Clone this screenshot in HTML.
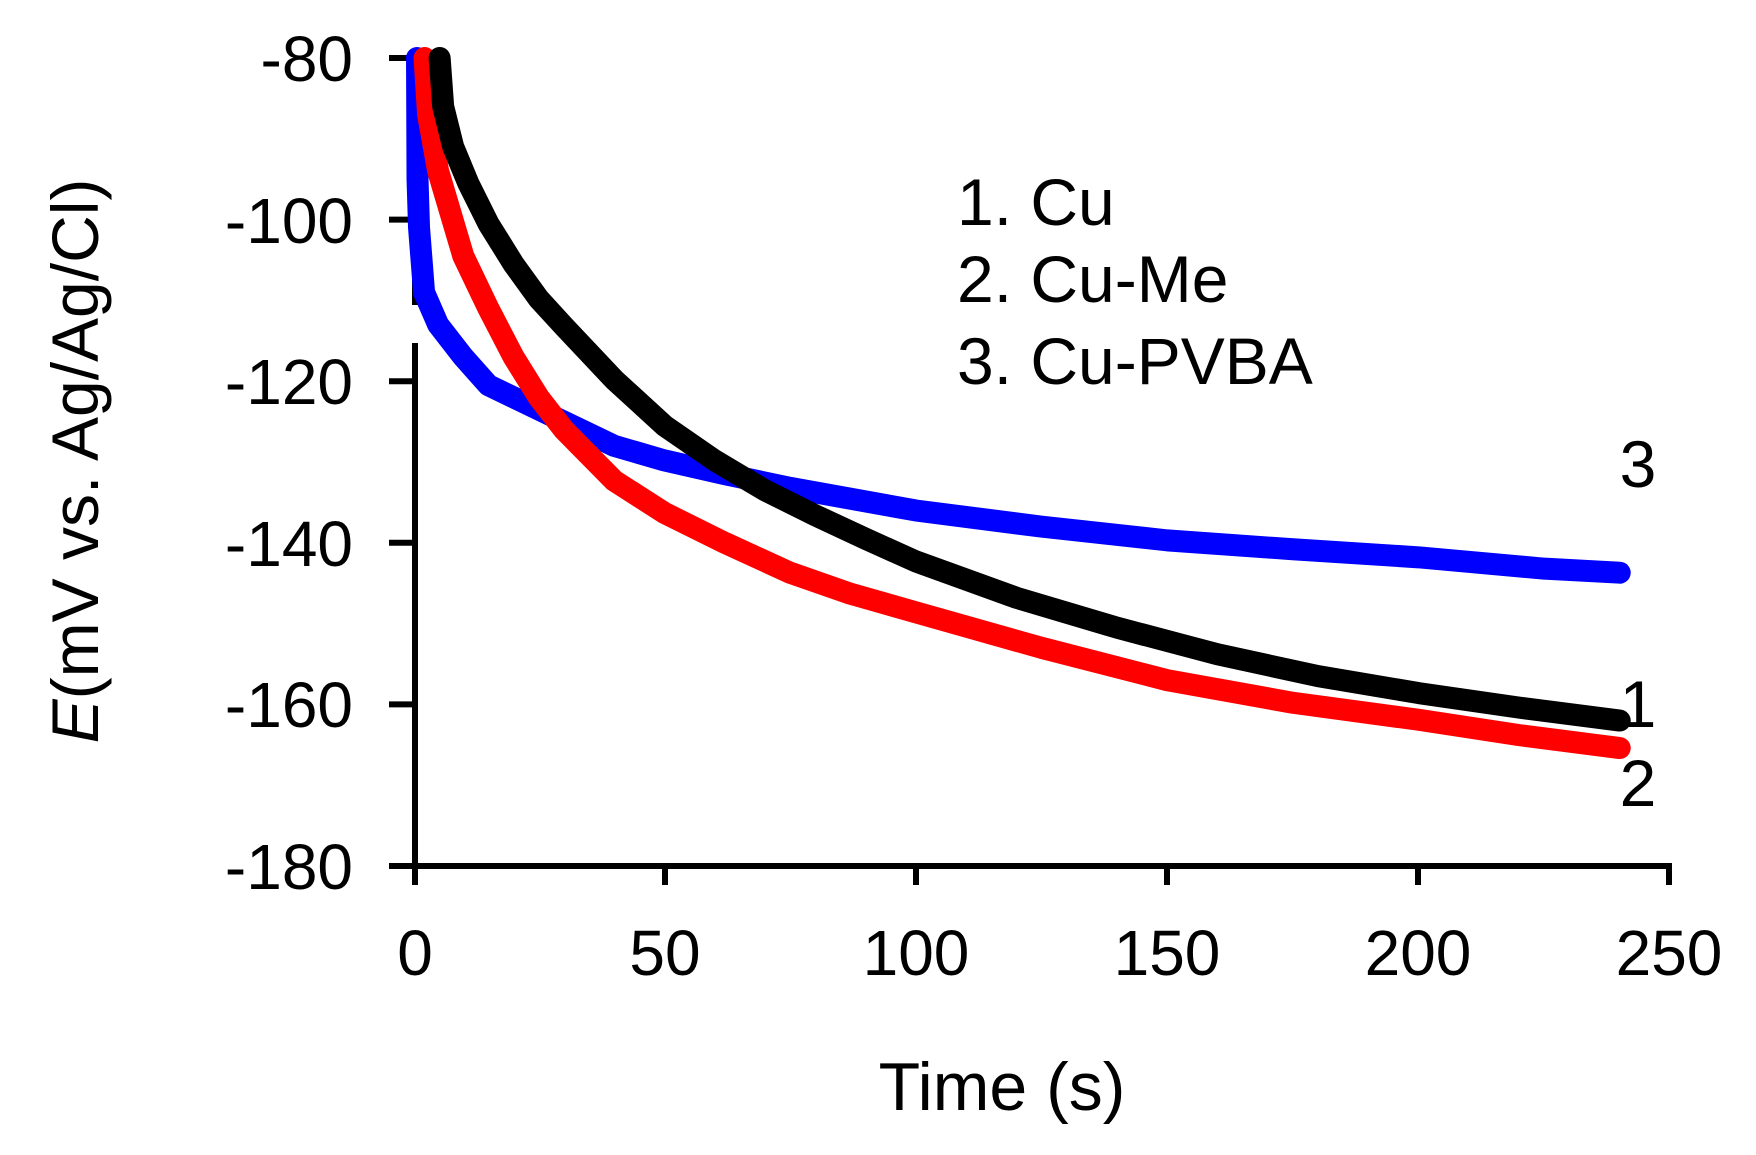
<!DOCTYPE html>
<html><head><meta charset="utf-8"><style>
html,body{margin:0;padding:0;background:#fff;}
svg{display:block;font-family:"Liberation Sans",Arial,sans-serif;}
</style></head><body>
<svg width="1756" height="1155" viewBox="0 0 1756 1155" xmlns="http://www.w3.org/2000/svg">
<rect width="1756" height="1155" fill="#fff"/>
<g stroke="#000" stroke-width="6" fill="none">
<line x1="415" y1="56" x2="415" y2="869"/>
<line x1="389" y1="866" x2="1672" y2="866"/>
<line x1="389" y1="58" x2="415" y2="58"/>
<line x1="389" y1="219.6" x2="415" y2="219.6"/>
<line x1="389" y1="381.2" x2="415" y2="381.2"/>
<line x1="389" y1="542.8" x2="415" y2="542.8"/>
<line x1="389" y1="704.4" x2="415" y2="704.4"/>
<line x1="415" y1="866" x2="415" y2="885"/>
<line x1="665" y1="866" x2="665" y2="885"/>
<line x1="916" y1="866" x2="916" y2="885"/>
<line x1="1167" y1="866" x2="1167" y2="885"/>
<line x1="1418" y1="866" x2="1418" y2="885"/>
<line x1="1669" y1="866" x2="1669" y2="885"/>
</g>
<rect x="410" y="305" width="10" height="38" fill="#fff"/>
<g transform="matrix(5.028 0 0 -8.08 413 -588.4)" fill="none" stroke-width="22" stroke-linejoin="round" stroke-linecap="round">
<polyline vector-effect="non-scaling-stroke" stroke="#0000ff" points="0.8,-80 0.9,-95 1.2,-101 2.2,-109 5,-113 10,-117 15,-120.5 25,-123.5 40,-128 50,-129.8 62,-131.5 75,-133.2 100,-136 125,-138 150,-139.7 175,-140.8 200,-141.8 225,-143.2 240,-143.7"/>
<polyline vector-effect="non-scaling-stroke" stroke="#ff0000" points="2.3,-80 3,-87 5,-94 10,-104.5 15,-111 20,-117 25,-122 30,-126 40,-132.3 50,-136.3 62,-140 75,-143.7 87,-146.3 100,-148.6 125,-153 150,-157 175,-159.8 200,-161.9 220,-163.8 240,-165.4"/>
<polyline vector-effect="non-scaling-stroke" stroke="#000000" points="5.3,-80 6,-86 8,-91 11,-95.5 15,-100.5 20,-105.5 25,-109.8 30,-113.2 40,-119.8 50,-125.5 60,-129.8 70,-133.5 80,-136.6 90,-139.5 100,-142.3 120,-146.8 140,-150.5 160,-153.8 180,-156.5 200,-158.6 220,-160.4 240,-162"/>
</g>
<g font-size="64" fill="#000" text-anchor="end">
<text x="353" y="81">-80</text>
<text x="353" y="243">-100</text>
<text x="353" y="404">-120</text>
<text x="353" y="566">-140</text>
<text x="353" y="727">-160</text>
<text x="353" y="889">-180</text>
</g>
<g font-size="64" fill="#000" text-anchor="middle">
<text x="415" y="975">0</text>
<text x="665" y="975">50</text>
<text x="916" y="975">100</text>
<text x="1167" y="975">150</text>
<text x="1418" y="975">200</text>
<text x="1669" y="975">250</text>
</g>
<text x="1002" y="1110" font-size="68" text-anchor="middle">Time  (s)</text>
<text transform="translate(98,461) rotate(-90)" font-size="66" text-anchor="middle"><tspan font-style="italic">E</tspan>(mV vs. Ag/Ag/Cl)</text>
<g font-size="66" fill="#000">
<text x="957" y="225">1. Cu</text>
<text x="957" y="302">2. Cu-Me</text>
<text x="957" y="384">3. Cu-PVBA</text>
</g>
<g font-size="66" fill="#000" text-anchor="middle">
<text x="1638" y="487">3</text>
<text x="1638" y="727">1</text>
<text x="1638" y="806">2</text>
</g>
</svg>
</body></html>
